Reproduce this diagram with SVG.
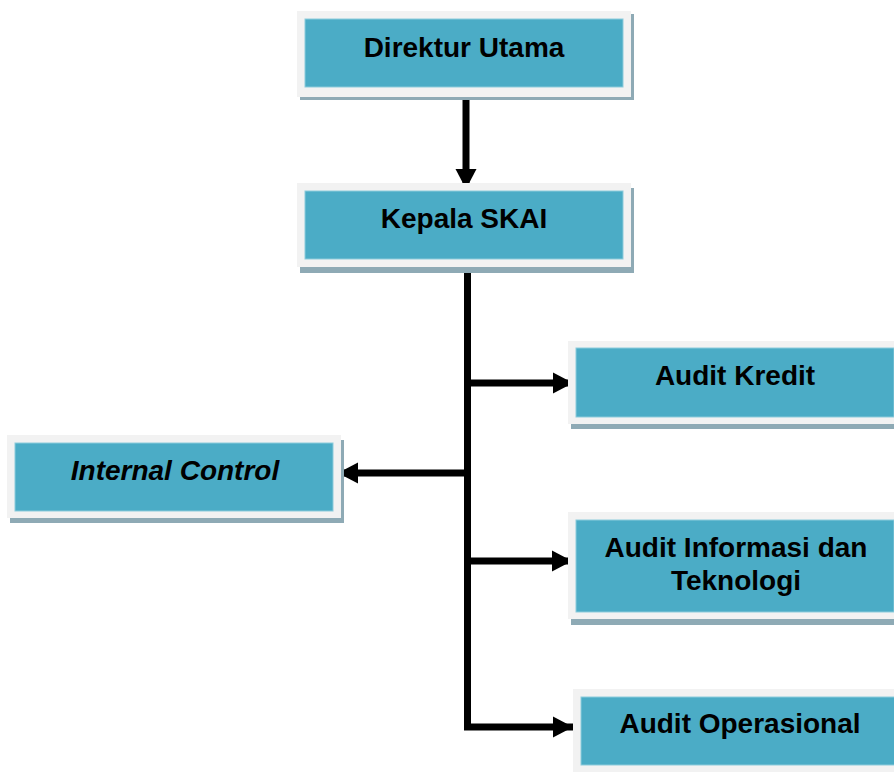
<svg xmlns="http://www.w3.org/2000/svg" width="894" height="772" viewBox="0 0 894 772">
<style>
.sh{fill:#8eaab5}
.out{fill:#f2f2f2}
.in{fill:#4bacc6;stroke:#8ccbdb;stroke-width:1}
.t{font-family:"Liberation Sans",Arial,sans-serif;font-weight:bold;font-size:28px;fill:#000;text-anchor:middle}
.it{font-style:italic}
.c{fill:none;stroke:#000;stroke-width:7}
</style>
<defs>
<marker id="ah" markerUnits="userSpaceOnUse" markerWidth="22" markerHeight="22" refX="20" refY="10.5" orient="auto" overflow="visible">
<path d="M0,0 L20,10.5 L0,21 z" fill="#000"/>
</marker>
</defs>
<rect width="894" height="772" fill="#fff"/>
<g id="connectors">
<path class="c" d="M466,97 V189" marker-end="url(#ah)"/>
<path class="c" d="M467.5,270 V727 H573" marker-end="url(#ah)"/>
<path class="c" d="M467.5,383 H573" marker-end="url(#ah)"/>
<path class="c" d="M467.5,561 H572" marker-end="url(#ah)"/>
<path class="c" d="M467.5,473 H338" marker-end="url(#ah)"/>
</g>
<g id="direktur-utama">
<rect class="sh" x="300" y="14" width="334" height="86"/>
<rect class="out" x="297" y="11" width="334" height="86"/>
<rect class="in" x="305" y="19" width="318" height="68"/>
<text class="t" x="464" y="57">Direktur Utama</text>
</g>
<g id="kepala-skai">
<rect class="sh" x="300" y="188" width="334" height="85"/>
<rect class="out" x="297" y="183" width="334" height="84"/>
<rect class="in" x="305" y="191" width="318" height="68"/>
<text class="t" x="464" y="228">Kepala SKAI</text>
</g>
<g id="audit-kredit">
<rect class="sh" x="571" y="346" width="334" height="83"/>
<rect class="out" x="568" y="341" width="334" height="83"/>
<rect class="in" x="576" y="348" width="318" height="69"/>
<text class="t" x="735" y="385">Audit Kredit</text>
</g>
<g id="internal-control">
<rect class="sh" x="10" y="440" width="334" height="83"/>
<rect class="out" x="7" y="435" width="334" height="83"/>
<rect class="in" x="15" y="443" width="318" height="68"/>
<text class="t it" x="175" y="480">Internal Control</text>
</g>
<g id="audit-informasi-dan-teknologi">
<rect class="sh" x="571" y="518" width="334" height="107"/>
<rect class="out" x="568" y="512" width="334" height="107"/>
<rect class="in" x="576" y="520" width="318" height="92"/>
<text class="t" x="736" y="557">Audit Informasi dan</text>
<text class="t" x="736" y="590">Teknologi</text>
</g>
<g id="audit-operasional">
<rect class="sh" x="576" y="694" width="334" height="86"/>
<rect class="out" x="573" y="689" width="334" height="86"/>
<rect class="in" x="581" y="697" width="318" height="68"/>
<text class="t" x="740" y="733">Audit Operasional</text>
</g>
</svg>
